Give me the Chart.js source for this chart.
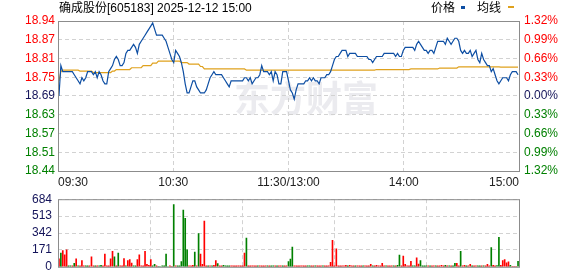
<!DOCTYPE html>
<html>
<head>
<meta charset="utf-8">
<title>确成股份 分时</title>
<script src="https://cdn.jsdelivr.net/npm/chart.js@4/dist/chart.umd.min.js"></script>
<style>
  html, body { margin: 0; padding: 0; background: #fff; }
  #wrap { position: relative; width: 578px; height: 276px; overflow: hidden;
          font-family: Arial, "Liberation Sans", "Noto Sans CJK SC", sans-serif; font-size: 12px; color: #000; }
  #title { position: absolute; left: 59px; top: 2px; line-height: 12px; white-space: nowrap; }
  .lg { position: absolute; top: 2px; line-height: 12px; white-space: nowrap; }
  .mark { position: absolute; }
  canvas { position: absolute; left: 0; }
</style>
</head>
<body>
<div id="wrap">
  <canvas id="priceChart" width="578" height="192" style="top:0"></canvas>
  <canvas id="volChart" width="578" height="94" style="top:186px"></canvas>
  <div id="title">确成股份[605183] 2025-12-12 15:00</div>
  <div class="lg" style="left:431px">价格</div>
  <div class="mark" style="left:461px; top:6px; width:4px; height:3px; background:#0d4ea3"></div>
  <div class="lg" style="left:477px">均线</div>
  <div class="mark" style="left:508px; top:6px; width:6px; height:2px; background:#dfa11d"></div>
</div>
<script>
// --- Data ---
const prevClose = 18.69;
const pctLimit = 0.0132;

const timeTicks = ['09:30', '10:30', '11:30/13:00', '14:00', '15:00'];
const priceTicks = ['18.94', '18.87', '18.81', '18.75', '18.69', '18.63', '18.57', '18.51', '18.44'];
const pctTicks = ['1.32%', '0.99%', '0.66%', '0.33%', '0.00%', '0.33%', '0.66%', '0.99%', '1.32%'];
const volTicks = [684, 513, 342, 171, 0];

// one value per minute, 09:30-11:30 then 13:01-15:00
const price = [
  18.69, 18.79, 18.77, 18.77, 18.77, 18.77, 18.77, 18.77, 18.76, 18.75,
  18.74, 18.73, 18.75, 18.74, 18.75, 18.77, 18.77, 18.77, 18.76, 18.77,
  18.75, 18.77, 18.76, 18.74, 18.73, 18.73, 18.77, 18.78, 18.79, 18.81,
  18.82, 18.81, 18.79, 18.79, 18.80, 18.83, 18.84, 18.84, 18.85, 18.86,
  18.85, 18.83, 18.86, 18.87, 18.88, 18.89, 18.90, 18.91, 18.92, 18.93,
  18.91, 18.89, 18.89, 18.89, 18.89, 18.88, 18.87, 18.85, 18.83, 18.81,
  18.80, 18.84, 18.83, 18.82, 18.80, 18.77, 18.73, 18.70, 18.70, 18.72,
  18.74, 18.74, 18.72, 18.71, 18.70, 18.70, 18.70, 18.71, 18.73, 18.75,
  18.76, 18.77, 18.76, 18.76, 18.76, 18.76, 18.75, 18.74, 18.73, 18.72,
  18.74, 18.74, 18.74, 18.74, 18.74, 18.74, 18.74, 18.75, 18.75, 18.74,
  18.75, 18.73, 18.74, 18.75, 18.75, 18.76, 18.79, 18.77, 18.77, 18.77,
  18.76, 18.77, 18.74, 18.77, 18.76, 18.73, 18.73, 18.77, 18.77, 18.77,
  18.74, 18.71, 18.70, 18.68, 18.71, 18.73, 18.73, 18.73, 18.73, 18.74,
  18.74, 18.75, 18.74, 18.75, 18.74, 18.74, 18.73, 18.75, 18.75, 18.75,
  18.76, 18.76, 18.77, 18.79, 18.81, 18.82, 18.82, 18.83, 18.84, 18.84,
  18.84, 18.82, 18.83, 18.83, 18.83, 18.83, 18.82, 18.82, 18.82, 18.82,
  18.82, 18.82, 18.81, 18.81, 18.80, 18.81, 18.82, 18.82, 18.82, 18.82,
  18.83, 18.83, 18.83, 18.83, 18.83, 18.83, 18.82, 18.83, 18.82, 18.82,
  18.84, 18.85, 18.85, 18.85, 18.85, 18.85, 18.84, 18.86, 18.87, 18.86,
  18.85, 18.84, 18.84, 18.83, 18.84, 18.84, 18.83, 18.85, 18.87, 18.87,
  18.87, 18.87, 18.86, 18.88, 18.87, 18.86, 18.87, 18.88, 18.88, 18.87,
  18.84, 18.83, 18.84, 18.83, 18.83, 18.84, 18.82, 18.83, 18.84, 18.81,
  18.80, 18.83, 18.81, 18.80, 18.79, 18.79, 18.77, 18.78, 18.76, 18.74,
  18.73, 18.74, 18.75, 18.75, 18.75, 18.74, 18.76, 18.77, 18.77, 18.77,
  18.76
];

const avgPrice = [
  18.740, 18.770, 18.775, 18.775, 18.775, 18.775, 18.775, 18.775, 18.775, 18.775,
  18.775, 18.772, 18.772, 18.772, 18.772, 18.772, 18.772, 18.772, 18.767, 18.767,
  18.767, 18.767, 18.767, 18.767, 18.767, 18.767, 18.767, 18.767, 18.772, 18.772,
  18.777, 18.777, 18.777, 18.777, 18.777, 18.777, 18.777, 18.777, 18.783, 18.783,
  18.783, 18.783, 18.783, 18.783, 18.790, 18.790, 18.790, 18.790, 18.790, 18.798,
  18.798, 18.798, 18.805, 18.805, 18.805, 18.805, 18.805, 18.805, 18.805, 18.805,
  18.805, 18.805, 18.805, 18.805, 18.800, 18.800, 18.800, 18.800, 18.795, 18.795,
  18.795, 18.795, 18.795, 18.795, 18.787, 18.787, 18.779, 18.779, 18.779, 18.779,
  18.779, 18.779, 18.779, 18.779, 18.779, 18.779, 18.779, 18.779, 18.779, 18.779,
  18.779, 18.779, 18.779, 18.779, 18.779, 18.779, 18.779, 18.779, 18.775, 18.775,
  18.775, 18.775, 18.775, 18.775, 18.775, 18.775, 18.775, 18.775, 18.775, 18.775,
  18.775, 18.775, 18.775, 18.775, 18.775, 18.775, 18.775, 18.775, 18.775, 18.775,
  18.775, 18.775, 18.775, 18.775, 18.775, 18.775, 18.775, 18.775, 18.775, 18.775,
  18.775, 18.775, 18.775, 18.775, 18.775, 18.775, 18.775, 18.775, 18.775, 18.775,
  18.775, 18.775, 18.775, 18.775, 18.775, 18.775, 18.775, 18.775, 18.775, 18.775,
  18.775, 18.775, 18.775, 18.775, 18.775, 18.775, 18.775, 18.775, 18.775, 18.775,
  18.775, 18.775, 18.775, 18.775, 18.775, 18.775, 18.777, 18.777, 18.777, 18.777,
  18.777, 18.777, 18.777, 18.777, 18.777, 18.777, 18.777, 18.777, 18.777, 18.777,
  18.777, 18.777, 18.777, 18.777, 18.779, 18.779, 18.779, 18.779, 18.779, 18.779,
  18.779, 18.779, 18.779, 18.779, 18.779, 18.779, 18.779, 18.779, 18.779, 18.782,
  18.782, 18.782, 18.782, 18.782, 18.782, 18.782, 18.782, 18.782, 18.782, 18.786,
  18.786, 18.786, 18.786, 18.786, 18.786, 18.786, 18.786, 18.786, 18.786, 18.786,
  18.786, 18.786, 18.786, 18.786, 18.786, 18.786, 18.786, 18.786, 18.786, 18.786,
  18.786, 18.785, 18.785, 18.785, 18.785, 18.785, 18.785, 18.785, 18.785, 18.785,
  18.785
];

// volume in lots
const volume = [
  80, 140, 165, 120, 172, 9, 9, 9, 34, 80,
  9, 9, 64, 9, 9, 9, 9, 100, 9, 9,
  9, 9, 16, 9, 128, 9, 9, 80, 157, 100,
  9, 140, 9, 9, 82, 9, 64, 72, 37, 9,
  9, 72, 120, 9, 9, 157, 26, 16, 72, 9,
  26, 9, 0, 0, 9, 9, 128, 0, 9, 0,
  630, 9, 9, 9, 53, 575, 490, 172, 9, 9,
  16, 150, 9, 336, 128, 26, 462, 9, 9, 9,
  9, 16, 64, 32, 9, 9, 16, 9, 9, 9,
  9, 9, 9, 9, 9, 9, 9, 140, 290, 9,
  9, 9, 9, 9, 9, 9, 9, 9, 9, 9,
  9, 9, 9, 9, 9, 9, 9, 9, 9, 9,
  53, 78, 200, 9, 9, 9, 9, 9, 9, 9,
  9, 9, 9, 9, 9, 9, 9, 9, 9, 9,
  9, 9, 44, 268, 9, 182, 9, 9, 9, 9,
  16, 9, 16, 9, 9, 9, 9, 9, 9, 9,
  9, 9, 9, 25, 9, 9, 16, 9, 9, 34,
  9, 9, 9, 9, 9, 9, 9, 16, 118, 9,
  109, 25, 9, 9, 56, 9, 9, 90, 28, 62,
  9, 9, 9, 9, 9, 9, 9, 9, 9, 9,
  16, 9, 16, 9, 9, 9, 9, 34, 34, 9,
  157, 9, 16, 9, 9, 25, 9, 9, 9, 9,
  9, 9, 9, 9, 25, 9, 195, 16, 9, 12,
  298, 16, 62, 72, 40, 50, 16, 6, 0, 0,
  56
];

// r = up minute (red), g = down minute (green)
const volSide = [
  'rgrrrggrgr', 'grrrggrrrg', 'rggrrrrrrg', 'rgrrrgrrrg', 'grrrrrrrrg',
  'grggggggrr', 'grggggggrr', 'rgrgrrrrgr', 'grrgrrgggg', 'rrrrrrrrgr',
  'rrrrgrrrrg', 'rggrgrrgrr', 'gggrrrrrrr', 'ggrrgrrrgr', 'rrrrrrrrrr',
  'rgrrrgrrrg', 'rrrrgrrrrr', 'rgrrrgrggr', 'rrrrrggrrg', 'gggrgrrgrr',
  'rrgrgrggrr', 'grrgrrgrrg', 'grgrrrgrrg', 'grrrrrgrrr', 'g'
].join('');

// --- Helpers ---
const UP = '#ff0000';
const DOWN = '#008000';
const FLAT = '#14145a';
const GRID = '#d2d2d2';
const FRAME = '#8c8c8c';

const yMin = prevClose * (1 - pctLimit);
const yMax = prevClose * (1 + pctLimit);

function sessionMinutes() {
    const out = [];
    const add = (start, count) => {
        for (let k = 0; k < count; k++) {
            const t = start + k;
            out.push(String(Math.floor(t / 60)).padStart(2, '0') + ':' + String(t % 60).padStart(2, '0'));
        }
    };
    add(9 * 60 + 30, 121);
    add(13 * 60 + 1, 120);
    return out;
}
const minutes = sessionMinutes();

function sideColor(k) {
    if (k < 4) return UP;
    if (k === 4) return FLAT;
    return DOWN;
}

function evenTicks(scale) {
    scale.ticks = priceTicks.map((_, k) => ({ value: yMax - k * (yMax - yMin) / 8 }));
}

// frame round the plot area
const framePlugin = {
    id: 'frame',
    afterDraw(chart) {
        const { ctx, chartArea: a } = chart;
        ctx.save();
        ctx.strokeStyle = FRAME;
        ctx.lineWidth = 1;
        ctx.strokeRect(a.left + 0.5, a.top + 0.5, a.right - a.left, a.bottom - a.top);
        ctx.restore();
    }
};

// faint brand watermark behind the price line
const watermarkPlugin = {
    id: 'watermark',
    beforeDraw(chart) {
        const { ctx } = chart;
        ctx.save();
        ctx.fillStyle = '#ebebef';
        ctx.font = 'bold 36px "Noto Sans CJK SC", sans-serif';
        ctx.textBaseline = 'alphabetic';
        ctx.fillText('东方财富', 234, 112);
        ctx.restore();
    }
};

Chart.defaults.font.family = 'Arial, "Liberation Sans", sans-serif';
Chart.defaults.font.size = 12;

const commonOptions = {
    responsive: false,
    animation: false,
    events: [],
    plugins: { legend: { display: false }, tooltip: { enabled: false } }
};

function timeAxis(height, showLabels) {
    return {
        type: 'linear',
        position: 'bottom',
        min: 0,
        max: 4,
        afterBuildTicks: s => { s.ticks = timeTicks.map((_, k) => ({ value: k })); },
        afterFit: s => { s.height = height; },
        grid: { color: GRID, drawTicks: false },
        border: { display: false, dash: [4, 3] },
        ticks: {
            display: showLabels,
            align: 'inner',
            autoSkip: false,
            maxRotation: 0,
            padding: 4,
            color: '#222',
            callback: (v, k) => timeTicks[k]
        }
    };
}

// --- Price chart ---
new Chart(document.getElementById('priceChart'), {
    type: 'line',
    data: {
        labels: minutes,
        datasets: [
            { label: '价格', data: price, xAxisID: 'x', yAxisID: 'y', borderColor: '#0d4ea3', borderWidth: 1.2, pointRadius: 0, tension: 0 },
            { label: '均线', data: avgPrice, xAxisID: 'x', yAxisID: 'y', borderColor: '#dfa11d', borderWidth: 1.2, pointRadius: 0, tension: 0 }
        ]
    },
    options: {
        ...commonOptions,
        layout: { padding: { top: 21, left: 0, right: 0, bottom: 0 } },
        scales: {
            x: { type: 'category', offset: true, display: false },
            xt: timeAxis(21, true),
            y: {
                position: 'left',
                min: yMin,
                max: yMax,
                bounds: 'data',
                afterBuildTicks: evenTicks,
                afterFit: s => { s.width = 58; },
                grid: { color: GRID, drawTicks: false },
                border: { display: false, dash: [4, 3] },
                ticks: { autoSkip: false, padding: 3, color: ctx => sideColor(ctx.index), callback: (v, k) => priceTicks[k] }
            },
            y2: {
                position: 'right',
                min: yMin,
                max: yMax,
                bounds: 'data',
                afterBuildTicks: evenTicks,
                afterFit: s => { s.width = 59; },
                grid: { display: false, drawTicks: false },
                border: { display: false },
                ticks: { autoSkip: false, padding: 5, color: ctx => sideColor(ctx.index), callback: (v, k) => pctTicks[k] }
            }
        }
    },
    plugins: [watermarkPlugin, framePlugin]
});

// --- Volume chart ---
new Chart(document.getElementById('volChart'), {
    type: 'bar',
    data: {
        labels: minutes,
        datasets: [{
            label: '成交量',
            data: volume,
            xAxisID: 'x',
            yAxisID: 'y',
            backgroundColor: volSide.split('').map(c => (c === 'r' ? UP : DOWN)),
            barThickness: 1
        }]
    },
    options: {
        ...commonOptions,
        layout: { padding: { top: 10, left: 0, right: 59, bottom: 0 } },
        scales: {
            x: { type: 'category', offset: true, display: false },
            xt: timeAxis(10, false),
            y: {
                position: 'left',
                min: 0,
                max: 684,
                bounds: 'data',
                afterBuildTicks: s => { s.ticks = volTicks.map(v => ({ value: v })); },
                afterFit: s => { s.width = 58; },
                grid: { color: GRID, drawTicks: false },
                border: { display: false, dash: [4, 3] },
                ticks: { autoSkip: false, padding: 6, color: FLAT, callback: v => String(v) }
            }
        }
    },
    plugins: [framePlugin]
});
</script>
</body>
</html>
